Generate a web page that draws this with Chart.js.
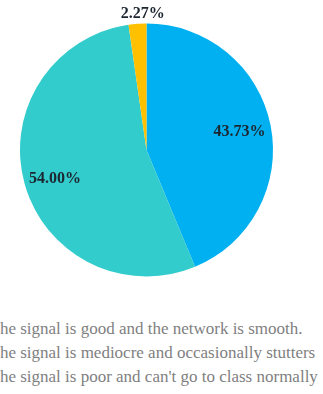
<!DOCTYPE html>
<html>
<head>
<meta charset="utf-8">
<script src="https://cdn.jsdelivr.net/npm/chart.js@4/dist/chart.umd.min.js"></script>
<style>
  html, body { margin: 0; padding: 0; background: #fff; overflow: hidden; }
  #wrap { position: relative; width: 323px; height: 394px; }
  #pie { position: absolute; left: 0; top: 0; }
  #legend { position: absolute; left: -10.5px; top: 317px; font-family: "Liberation Serif", "Times New Roman", serif;
            font-size: 17px; line-height: 24px; color: #7f7f7f; white-space: nowrap; }
</style>
</head>
<body>
<div id="wrap">
  <canvas id="pie" width="323" height="300"></canvas>
  <div id="legend"></div>
</div>
<script>
// Signal quality survey
const labels = [
    'The signal is good and the network is smooth.',
    'The signal is mediocre and occasionally stutters',
    "The signal is poor and can't go to class normally"
];
const shares = [43.73, 54.00, 2.27];
const colors = ['#00B0F0', '#33CCCC', '#FFC000'];

// Percent labels: inside for big slices, outside for thin ones
const sliceLabels = {
    id: 'sliceLabels',
    afterDatasetsDraw(chart) {
        const ctx = chart.ctx;
        const arcs = chart.getDatasetMeta(0).data;
        ctx.save();
        ctx.font = 'bold 16px "Liberation Serif", serif';
        ctx.fillStyle = '#1c2630';
        ctx.textAlign = 'center';
        ctx.textBaseline = 'middle';
        arcs.forEach((arc, i) => {
            const thin = shares[i] < 5;
            const mid = (arc.startAngle + arc.endAngle) / 2;
            const r = thin ? arc.outerRadius + 10 : arc.outerRadius * 0.75;
            const x = arc.x + Math.cos(mid) * r + (thin ? 6 : 0);
            const y = arc.y + Math.sin(mid) * r + (i === 1 ? 4 : 0);
            ctx.fillText(shares[i].toFixed(2) + '%', x, y);
        });
        ctx.restore();
    }
};

new Chart(document.getElementById('pie'), {
    type: 'pie',
    data: {
        labels: labels,
        datasets: [{ data: shares, backgroundColor: colors, borderWidth: 0 }]
    },
    options: {
        responsive: false,
        animation: false,
        layout: { padding: { top: 23.5, bottom: 23.5, left: 20, right: 50 } },
        plugins: { legend: { display: false }, tooltip: { enabled: false } }
    },
    plugins: [sliceLabels]
});

// Legend rows below the pie
const legend = document.getElementById('legend');
labels.forEach(t => {
    const row = document.createElement('div');
    row.textContent = t;
    legend.appendChild(row);
});
</script>
</body>
</html>
